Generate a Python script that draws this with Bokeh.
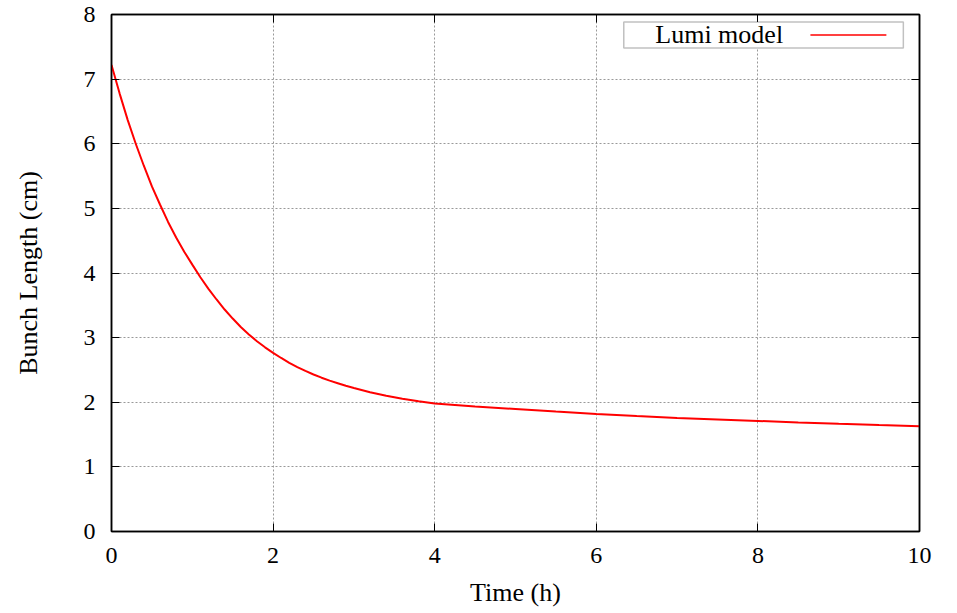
from bokeh.plotting import figure
from bokeh.models import LinearAxis, FixedTicker, BoxAnnotation, Label, Arrow, Range1d
from bokeh.embed import file_html
from bokeh.resources import INLINE

# Data
time_h = [0.0, 0.1, 0.2, 0.3, 0.4, 0.5, 0.6, 0.7, 0.8, 0.9,
          1.0, 1.1, 1.2, 1.3, 1.4, 1.5, 1.6, 1.7, 1.8, 1.9,
          2.0, 2.1, 2.2, 2.3, 2.4, 2.5, 2.6, 2.7, 2.8, 2.9,
          3.0, 3.2, 3.4, 3.6, 3.8, 4.0, 4.5, 5.0, 5.5, 6.0,
          6.5, 7.0, 7.5, 8.0, 8.5, 9.0, 9.5, 10.0]
bunch_length_cm = [7.22, 6.78, 6.37, 6.00, 5.66, 5.34, 5.06, 4.79, 4.55, 4.33,
                   4.13, 3.935, 3.755, 3.59, 3.435, 3.295, 3.165, 3.05, 2.945, 2.85,
                   2.765, 2.685, 2.61, 2.545, 2.485, 2.43, 2.38, 2.335, 2.295, 2.255,
                   2.22, 2.155, 2.10, 2.055, 2.015, 1.98, 1.935, 1.895, 1.855, 1.82,
                   1.786, 1.758, 1.734, 1.711, 1.687, 1.666, 1.647, 1.63]
x_ticks = [0, 2, 4, 6, 8, 10]
y_ticks = [0, 1, 2, 3, 4, 5, 6, 7, 8]
series_label = "Lumi model"

FONT = "Liberation Serif"
TICK_FS = "24px"
LABEL_FS = "26px"

p = figure(frame_width=808, frame_height=517,
           x_range=Range1d(0, 10), y_range=Range1d(0, 8),
           output_backend="svg", toolbar_location=None,
           min_border_left=111, min_border_right=38,
           min_border_top=14, min_border_bottom=82,
           x_axis_label="Time (h)", y_axis_label="Bunch Length (cm)")
p.background_fill_color = "white"
p.border_fill_color = "white"
p.outline_line_color = "black"
p.outline_line_width = 1.5

for ax, ticks in ((p.xaxis[0], x_ticks), (p.yaxis[0], y_ticks)):
    ax.ticker = FixedTicker(ticks=ticks)
    ax.major_tick_in = 8
    ax.major_tick_out = 0
    ax.minor_tick_line_color = None
    ax.major_tick_line_color = "black"
    ax.axis_line_color = "black"
    ax.axis_line_width = 1.5
    ax.major_label_text_font = FONT
    ax.major_label_text_font_size = TICK_FS
    ax.major_label_text_color = "black"
    ax.axis_label_text_font = FONT
    ax.axis_label_text_font_size = LABEL_FS
    ax.axis_label_text_font_style = "normal"
    ax.axis_label_text_color = "black"

p.xaxis[0].major_label_standoff = 16
p.xaxis[0].axis_label_standoff = 12
p.yaxis[0].major_label_standoff = 16
p.yaxis[0].axis_label_standoff = 38

# Mirror ticks on top and right (no labels)
for loc, ticks in (("above", x_ticks), ("right", y_ticks)):
    ax = LinearAxis(ticker=FixedTicker(ticks=ticks))
    ax.major_tick_in = 8
    ax.major_tick_out = 0
    ax.minor_tick_line_color = None
    ax.major_tick_line_color = "black"
    ax.axis_line_color = "black"
    ax.axis_line_width = 1.5
    ax.major_label_overrides = {t: "" for t in ticks}
    ax.major_label_standoff = 0
    p.add_layout(ax, loc)

p.xgrid.ticker = FixedTicker(ticks=x_ticks)
p.ygrid.ticker = FixedTicker(ticks=y_ticks)
for g in (p.xgrid, p.ygrid):
    g.grid_line_color = "#999999"
    g.grid_line_dash = "2 2"
    g.grid_line_width = 1

p.line(time_h, bunch_length_cm, line_color="#ff0000", line_width=2)

# gnuplot-style key: text then line sample, in a box
p.add_layout(BoxAnnotation(left=6.34, right=9.80, bottom=7.482, top=7.884,
                           fill_color="white", fill_alpha=1.0,
                           line_color="#333333", line_width=1.5))
p.add_layout(Label(x=6.73, y=7.683, text=series_label, text_font=FONT,
                   text_font_size=LABEL_FS, text_baseline="middle", text_color="black"))
p.add_layout(Arrow(end=None, x_start=8.65, y_start=7.683, x_end=9.59, y_end=7.683,
                   line_color="#ff0000", line_width=1.5))

open("out.html", "w").write(file_html(p, INLINE))
